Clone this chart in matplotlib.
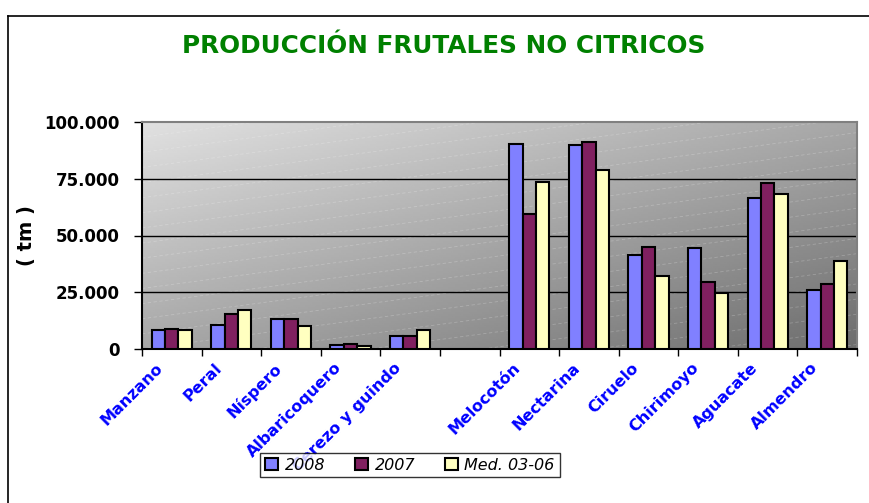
import numpy as np
import matplotlib
matplotlib.use('Agg')
import matplotlib.pyplot as plt
import matplotlib.transforms as mtransforms
from matplotlib.lines import Line2D

# Data (tm); empty slot between Cerezo and Melocotón
categories = ['Manzano', 'Peral', 'Níspero', 'Albaricoquero', 'Cerezo y guindo', '',
              'Melocotón', 'Nectarina', 'Ciruelo', 'Chirimoyo', 'Aguacate', 'Almendro']
v2008 = [8500, 10700, 13000, 1600, 5900, np.nan, 90400, 90000, 41400, 44400, 66400, 25800]
v2007 = [8800, 15200, 13300, 2200, 5600, np.nan, 59400, 91000, 44800, 29300, 73300, 28600]
vmed = [8200, 17000, 10000, 1500, 8200, np.nan, 73400, 79000, 32100, 24600, 68100, 38800]
series_names = ['2008', '2007', 'Med. 03-06']
colors = ['#8080ff', '#802060', '#ffffc0']

plt.rcParams['font.family'] = ['DejaVu Sans']

fig = plt.figure(figsize=(8.69, 5.03), dpi=100)
ax = fig.add_axes([142 / 869, 1 - 349 / 503, 715 / 869, 227 / 503])

# outer chart frame
fig.add_artist(Line2D([8 / 869, 1.0], [1 - 16 / 503, 1 - 16 / 503], color='black', lw=1.2))
fig.add_artist(Line2D([8 / 869, 8 / 869], [0, 1 - 16 / 503], color='black', lw=1.2))

# gradient background
n = len(categories)
xx, yy = np.meshgrid(np.linspace(0, 1, 300), np.linspace(1, 0, 100))
t = (xx + (1 - yy)) / 2
grad = 0.88 - 0.45 * t
ax.imshow(grad, cmap='gray', vmin=0, vmax=1, extent=[-0.5, n - 0.5, 0, 100000],
          aspect='auto', zorder=0, interpolation='bilinear')
# faint diagonal dashed streaks
for k in np.linspace(-1.2, 1.0, 34):
    ax.plot([0, 1], [k, k + 0.42], transform=ax.transAxes, color='white',
            lw=0.6, alpha=0.22, ls=(0, (4, 3)), zorder=0.5, clip_on=True)

x = np.arange(n)
w = 0.225
for i, (vals, c, name) in enumerate(zip([v2008, v2007, vmed], colors, series_names)):
    ax.bar(x + (i - 1) * w, vals, width=w, color=c, edgecolor='black', linewidth=1.5,
           label=name, zorder=3)

ax.set_xlim(-0.5, n - 0.5)
ax.set_ylim(0, 100000)
ax.set_yticks([0, 25000, 50000, 75000, 100000])
ax.set_yticklabels(['0', '25.000', '50.000', '75.000', '100.000'],
                   fontsize=12, fontweight='bold')
for yv in [25000, 50000, 75000]:
    ax.axhline(yv, color='black', lw=1.0, zorder=1)

ax.set_xticks(np.arange(n + 1) - 0.5)
ax.set_xticklabels([])
ax.set_xticks(x, minor=True)
ax.set_xticklabels(categories, minor=True, rotation=45, ha='right',
                   rotation_mode='anchor', fontsize=11.5, fontweight='bold', color='#0000ff')
ax.tick_params(axis='x', which='minor', length=0, pad=8)
ax.tick_params(axis='x', which='major', length=5, width=1, direction='out')
ax.tick_params(axis='y', length=6, width=1, direction='out', pad=10)
offset = mtransforms.ScaledTranslation(-0.17, 0, fig.dpi_scale_trans)
for lab in ax.get_xticklabels(minor=True):
    lab.set_transform(lab.get_transform() + offset)

for side in ['top', 'right']:
    ax.spines[side].set_color('#808080')
    ax.spines[side].set_linewidth(1.5)
ax.spines['left'].set_linewidth(1.5)
ax.spines['bottom'].set_linewidth(1.5)

ax.set_ylabel('( tm )', fontsize=14, fontweight='bold')
ax.yaxis.set_label_coords(-0.148, 0.5)

fig.text(0.511, 1 - 46 / 503, 'PRODUCCIÓN FRUTALES NO CITRICOS', ha='center', va='center',
         fontsize=17.8, fontweight='bold', color='#008000')

leg = fig.legend(loc='center', bbox_to_anchor=(410 / 869, 1 - 465 / 503), ncol=3,
                 prop={'style': 'italic', 'size': 11.5}, frameon=True, fancybox=False,
                 edgecolor='black', handlelength=0.8, handleheight=0.8,
                 handletextpad=0.4, columnspacing=1.9, borderpad=0.3)
leg.get_frame().set_linewidth(1.0)

fig.savefig('out.png', dpi=100)
